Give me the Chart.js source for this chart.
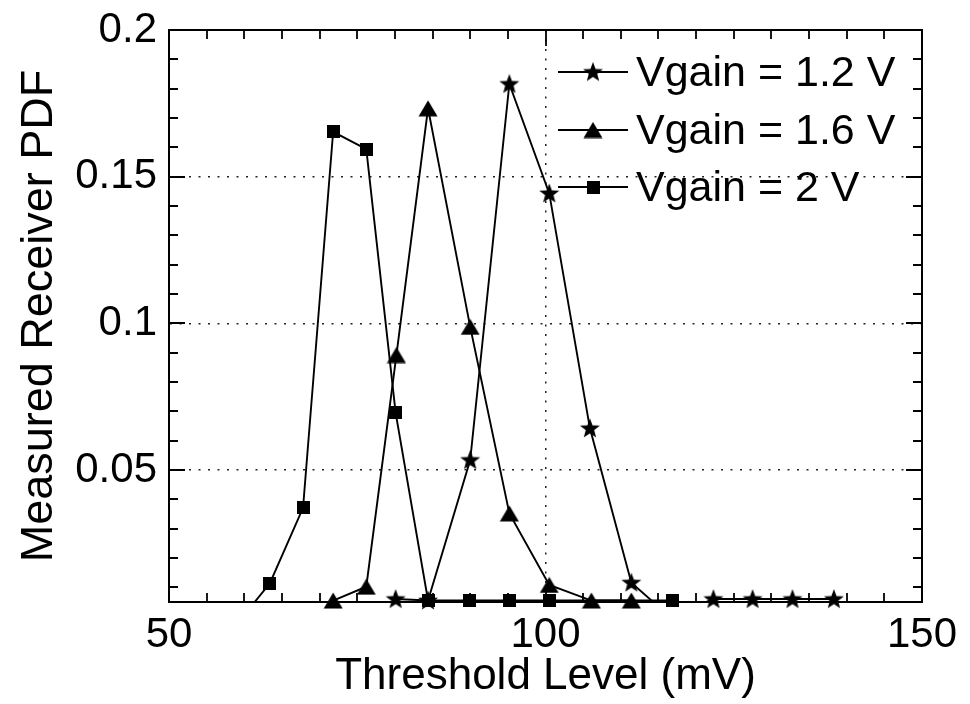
<!DOCTYPE html>
<html>
<head>
<meta charset="utf-8">
<script src="https://cdn.jsdelivr.net/npm/chart.js@4.4.1/dist/chart.umd.min.js"></script>
<style>
  html, body { margin: 0; padding: 0; background: #ffffff; }
  canvas { display: block; }
</style>
</head>
<body>
<canvas id="c" width="970" height="704"></canvas>
<script>
// ---------------- data ----------------
const seriesLabels = ['Vgain = 1.2 V', 'Vgain = 1.6 V', 'Vgain = 2 V'];

const v12X = [80.1, 84.4, 90.0, 95.2, 100.5, 105.9, 111.4, 116.5, 122.3, 127.5, 132.8, 138.3];
const v12Y = [0.006, 0.0055, 0.0534, 0.1816, 0.1443, 0.0642, 0.0116, 0.0, 0.006, 0.006, 0.006, 0.006];

const v16X = [71.8, 76.2, 80.2, 84.4, 90.0, 95.2, 100.5, 106.1, 111.4];
const v16Y = [0.0055, 0.0102, 0.0892, 0.1733, 0.0988, 0.0352, 0.0108, 0.0055, 0.0055];

const v2X = [59.8, 63.4, 67.8, 71.8, 76.2, 80.1, 84.4, 89.9, 95.2, 100.5, 116.8];
const v2Y = [0.0, 0.0114, 0.0371, 0.1653, 0.1594, 0.0695, 0.0055, 0.0055, 0.0055, 0.0055, 0.0055];

const xTickValues = [50, 100, 150];
const xTickLabels = ['50', '100', '150'];
const yTickValues = [0.05, 0.1, 0.15, 0.2];
const yTickLabels = ['0.05', '0.1', '0.15', '0.2'];
const xAxisTitle = 'Threshold Level (mV)';
const yAxisTitle = 'Measured Receiver PDF';

// ---------------- markers ----------------
function makeMarker(kind) {
  const c = document.createElement('canvas');
  const g = c.getContext('2d');
  g.fillStyle = '#000';
  if (kind === 'star') {
    c.width = 22; c.height = 21;
    g.fillStyle = '#000';
    g.beginPath();
    const cx = 11, cy = 11, ro = 10.5, ri = 4.4;
    for (let i = 0; i < 10; i++) {
      const ang = -Math.PI / 2 + i * Math.PI / 5;
      const r = (i % 2 === 0) ? ro : ri;
      const px = cx + r * Math.cos(ang), py = cy + r * Math.sin(ang);
      if (i === 0) g.moveTo(px, py); else g.lineTo(px, py);
    }
    g.closePath(); g.fill();
  } else if (kind === 'triangle') {
    c.width = 20; c.height = 17;
    g.beginPath();
    g.moveTo(10, 0.5); g.lineTo(19.5, 16.5); g.lineTo(0.5, 16.5);
    g.closePath(); g.fill();
  } else {
    c.width = 13; c.height = 13;
    g.fillRect(0, 0, 13, 13);
  }
  return c;
}
const markers = [makeMarker('star'), makeMarker('triangle'), makeMarker('square')];

function toPoints(xs, ys) { return xs.map((x, i) => ({ x: x, y: ys[i] })); }
const seriesPoints = [toPoints(v12X, v12Y), toPoints(v16X, v16Y), toPoints(v2X, v2Y)];

const datasets = [];
seriesPoints.forEach((pts, i) => {
  // markers (not clipped, like the original figure)
  datasets.push({
    label: seriesLabels[i],
    data: pts,
    showLine: false,
    pointStyle: markers[i],
    pointRadius: 6,
    pointBorderWidth: 0,
    pointBackgroundColor: '#000',
    clip: false,
    order: 1
  });
  // connecting line (clipped to the axes box)
  datasets.push({
    label: seriesLabels[i] + ' line',
    data: pts,
    showLine: true,
    borderColor: '#000',
    borderWidth: 1.9,
    pointRadius: 0,
    tension: 0,
    fill: false,
    order: 2
  });
});

// ---------------- plugins ----------------
const inwardTicks = {
  id: 'inwardTicks',
  beforeDatasetsDraw(chart) {
    const { ctx, chartArea: a, scales: { x, y } } = chart;
    ctx.save();
    ctx.strokeStyle = '#000';
    ctx.lineWidth = 1.8;
    ctx.beginPath();
    for (let k = 11; k < 30; k++) {           // every 5 mV between 50 and 150
      const v = k * 5;
      const px = Math.round(x.getPixelForValue(v));
      const len = (v % 50 === 0) ? 16 : 9;
      ctx.moveTo(px, a.bottom); ctx.lineTo(px, a.bottom - len);
      ctx.moveTo(px, a.top); ctx.lineTo(px, a.top + len);
    }
    for (let k = 1; k < 20; k++) {            // every 0.01
      const py = Math.round(y.getPixelForValue(k / 100));
      const len = (k % 5 === 0) ? 16 : 9;
      ctx.moveTo(a.left, py); ctx.lineTo(a.left + len, py);
      ctx.moveTo(a.right, py); ctx.lineTo(a.right - len, py);
    }
    ctx.stroke();
    ctx.restore();
  }
};

const lineLegend = {
  id: 'lineLegend',
  afterDraw(chart) {
    const ctx = chart.ctx;
    const rows = [72, 130, 187];
    ctx.save();
    ctx.font = '43px "Liberation Sans", Arial, sans-serif';
    ctx.fillStyle = '#000';
    ctx.textAlign = 'left';
    ctx.textBaseline = 'middle';
    seriesLabels.forEach((lab, i) => {
      const yy = rows[i];
      ctx.strokeStyle = '#000';
      ctx.lineWidth = 1.9;
      ctx.beginPath(); ctx.moveTo(558, yy); ctx.lineTo(628, yy); ctx.stroke();
      const m = markers[i];
      ctx.drawImage(m, 593 - m.width / 2, yy - m.height / 2);
      ctx.fillText(lab, 636, yy + 2);
    });
    ctx.restore();
  }
};

const FONT = '"Liberation Sans", Arial, sans-serif';
const DOTS = [2, 7.5];

new Chart(document.getElementById('c'), {
  type: 'scatter',
  data: { datasets: datasets },
  plugins: [inwardTicks, lineLegend],
  options: {
    responsive: false,
    animation: false,
    devicePixelRatio: 1,
    events: [],
    layout: { padding: { top: 30, right: 48, left: 0, bottom: 0 }, autoPadding: false },
    plugins: { legend: { display: false }, tooltip: { enabled: false } },
    scales: {
      x: {
        type: 'linear', position: 'bottom', min: 50, max: 150,
        afterBuildTicks: (s) => { s.ticks = xTickValues.map(v => ({ value: v })); },
        afterFit: (s) => { s.height = 102; s.paddingLeft = 0; s.paddingRight = 0; },
        ticks: {
          color: '#000', padding: 8,
          font: { family: FONT, size: 42, lineHeight: 1.2 },
          callback: (v) => xTickLabels[xTickValues.indexOf(v)],
          maxRotation: 0, autoSkip: false
        },
        grid: {
          drawTicks: false,
          color: (c) => (c.tick && c.tick.value === 100) ? '#222' : 'rgba(0,0,0,0)',
          lineWidth: 1.5
        },
        border: { display: true, color: '#000', width: 2, dash: DOTS },
        title: {
          display: true, text: xAxisTitle, color: '#000',
          font: { family: FONT, size: 44, lineHeight: 1.1 },
          padding: { top: 0, bottom: 3 }
        }
      },
      y: {
        type: 'linear', position: 'left', min: 0.005, max: 0.2,
        afterBuildTicks: (s) => { s.ticks = yTickValues.map(v => ({ value: v })); },
        afterFit: (s) => { s.width = 169; s.paddingTop = 0; s.paddingBottom = 0; },
        ticks: {
          color: '#000', padding: 12,
          font: { family: FONT, size: 42, lineHeight: 1.2 },
          callback: (v) => yTickLabels[yTickValues.indexOf(v)],
          autoSkip: false
        },
        grid: {
          drawTicks: false,
          color: (c) => (c.tick && c.tick.value < 0.199) ? '#222' : 'rgba(0,0,0,0)',
          lineWidth: 1.5
        },
        border: { display: true, color: '#000', width: 2, dash: DOTS },
        title: {
          display: true, text: yAxisTitle, color: '#000',
          font: { family: FONT, size: 45, lineHeight: 1.1 },
          padding: { top: 15, bottom: 0 }
        }
      },
      x2: {
        type: 'linear', position: 'top', min: 50, max: 150,
        afterFit: (s) => { s.height = 0; s.paddingLeft = 0; s.paddingRight = 0; },
        ticks: { display: false },
        grid: { display: false, drawTicks: false },
        border: { display: true, color: '#000', width: 2 }
      },
      y2: {
        type: 'linear', position: 'right', min: 0.005, max: 0.2,
        afterFit: (s) => { s.width = 0; s.paddingTop = 0; s.paddingBottom = 0; },
        ticks: { display: false },
        grid: { display: false, drawTicks: false },
        border: { display: true, color: '#000', width: 2 }
      }
    }
  }
});
</script>
</body>
</html>
